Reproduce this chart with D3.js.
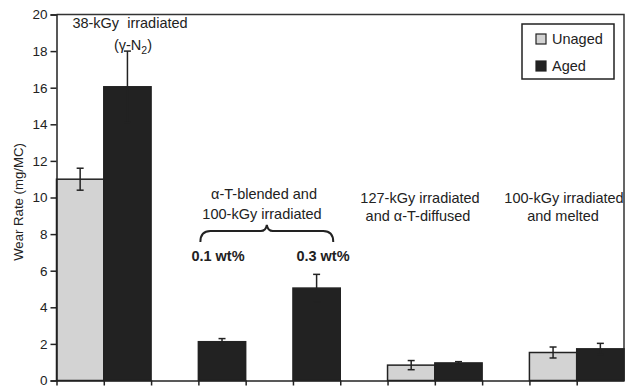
<!DOCTYPE html>
<html><head><meta charset="utf-8">
<script src="https://cdn.jsdelivr.net/npm/d3@7/dist/d3.min.js"></script>
<style>body{margin:0;background:#fff}svg{display:block;font-family:"Liberation Sans",Arial,sans-serif}</style>
</head><body><svg id="c" width="626" height="386"></svg>
<script>
// slots along the category axis (Excel-style, with empty gaps)
const slots = ["38U","38A","g1","01A","g2","03A","g3","127U","127A","g4","100U","100A"];
const unaged    = [11.0, null, null, null, null, null, null, 0.84, null, null, 1.53, null];
const unagedErr = [0.6,  null, null, null, null, null, null, 0.25, null, null, 0.3,  null];
const aged      = [null, 16.05, null, 2.12, null, 5.05, null, null, 0.96, null, null, 1.73];
const agedErr   = [null, 1.95,  null, 0.17, null, 0.75, null, null, 0.07, null, null, 0.3];
const yTicks = [0,2,4,6,8,10,12,14,16,18,20];
const seriesNames = ["Unaged","Aged"];

const svg = d3.select("#c");
const L = 56.5, R = 624, T = 14.5, B = 380.5;
const x = d3.scaleBand().domain(slots).range([L, R]).padding(0);
const y = d3.scaleLinear().domain([0, 20]).range([B, T]);
const colU = "#d3d3d3", colA = "#222222", ink = "#222";

// frame top & right
svg.append("path").attr("d", `M${L},${T}H${R}V${B}`).attr("fill","none").attr("stroke","#333").attr("stroke-width",1.5);

function bars(vals, errs, fill) {
  const data = slots.map((s,i)=>({s, v: vals[i], e: errs[i]})).filter(d=>d.v!=null);
  svg.append("g").selectAll("rect").data(data).join("rect")
    .attr("x", d=>x(d.s)).attr("width", x.bandwidth())
    .attr("y", d=>y(d.v)).attr("height", d=>y(0)-y(d.v))
    .attr("fill", fill).attr("stroke", ink).attr("stroke-width", 1.5);
  const g = svg.append("g").attr("stroke", ink).attr("stroke-width", 1.5);
  data.forEach(d=>{
    const cx = x(d.s) + x.bandwidth()/2;
    g.append("line").attr("x1",cx).attr("x2",cx).attr("y1",y(d.v+d.e)).attr("y2",y(d.v-d.e));
    [d.v+d.e, d.v-d.e].forEach(v=>g.append("line").attr("x1",cx-3.5).attr("x2",cx+3.5).attr("y1",y(v)).attr("y2",y(v)));
  });
}
bars(unaged, unagedErr, colU);
bars(aged, agedErr, colA);

// y axis
const ya = svg.append("g").attr("transform",`translate(${L},0)`)
  .call(d3.axisLeft(y).tickValues(yTicks).tickSize(6).tickPadding(3));
ya.selectAll("path,line").attr("stroke","#222").attr("stroke-width",1.5);
ya.selectAll("text").attr("font-size",13.5).attr("fill","#222").attr("font-family","Liberation Sans, Arial, sans-serif");

// x axis with boundary ticks
const xi = d3.scaleLinear().domain([0, slots.length]).range([L, R]);
const xa = svg.append("g").attr("transform",`translate(0,${B})`)
  .call(d3.axisBottom(xi).tickValues(d3.range(0, slots.length)).tickSize(5).tickSizeOuter(0).tickFormat(""));
xa.selectAll("path,line").attr("stroke","#222").attr("stroke-width",1.5);

// y label
svg.append("text").attr("transform","translate(23,202) rotate(-90)").attr("text-anchor","middle")
  .attr("font-size",13.2).attr("fill","#222").text("Wear Rate (mg/MC)");

// annotations
const ann = svg.append("g").attr("font-size",14.5).attr("fill","#222").attr("text-anchor","middle");
ann.append("text").attr("x",130).attr("y",28).text("38-kGy\u00A0 irradiated");
const t2 = ann.append("text").attr("x",133).attr("y",50);
t2.append("tspan").text("(γ-N");
t2.append("tspan").attr("font-size",10.5).attr("dy",4).text("2");
t2.append("tspan").attr("dy",-4).text(")");
ann.append("text").attr("x",264).attr("y",199).text("α-T-blended and");
ann.append("text").attr("x",262).attr("y",219).text("100-kGy irradiated");
ann.append("text").attr("x",218).attr("y",261).attr("font-weight","bold").text("0.1 wt%");
ann.append("text").attr("x",323).attr("y",261).attr("font-weight","bold").text("0.3 wt%");
ann.append("text").attr("x",420).attr("y",203).text("127-kGy irradiated");
ann.append("text").attr("x",418).attr("y",221).text("and α-T-diffused");
ann.append("text").attr("x",564).attr("y",203).text("100-kGy irradiated");
ann.append("text").attr("x",563).attr("y",221).text("and melted");

// brace
const x1 = x("01A") + 2, x2 = x("03A") + x.bandwidth() - 7, mid = (x1 + x2) / 2;
const yb = 231, ye = 242, yp = 225;
svg.append("path").attr("fill","none").attr("stroke","#222").attr("stroke-width",2)
  .attr("d",`M${x1},${ye} Q${x1},${yb} ${x1+10},${yb} L${mid-6},${yb} Q${mid-1},${yb} ${mid},${yp} Q${mid+1},${yb} ${mid+6},${yb} L${x2-10},${yb} Q${x2},${yb} ${x2},${ye}`);

// legend
const lg = svg.append("g");
lg.append("rect").attr("x",522).attr("y",24).attr("width",92).attr("height",55).attr("fill","#fff").attr("stroke","#222").attr("stroke-width",1.5);
[colU, colA].forEach((c,i)=>{
  lg.append("rect").attr("x",536).attr("y",34+i*27).attr("width",10).attr("height",10).attr("fill",c).attr("stroke",ink).attr("stroke-width",1.2);
  lg.append("text").attr("x",552).attr("y",44+i*27).attr("font-size",14.5).attr("fill","#222").text(seriesNames[i]);
});
</script></body></html>
